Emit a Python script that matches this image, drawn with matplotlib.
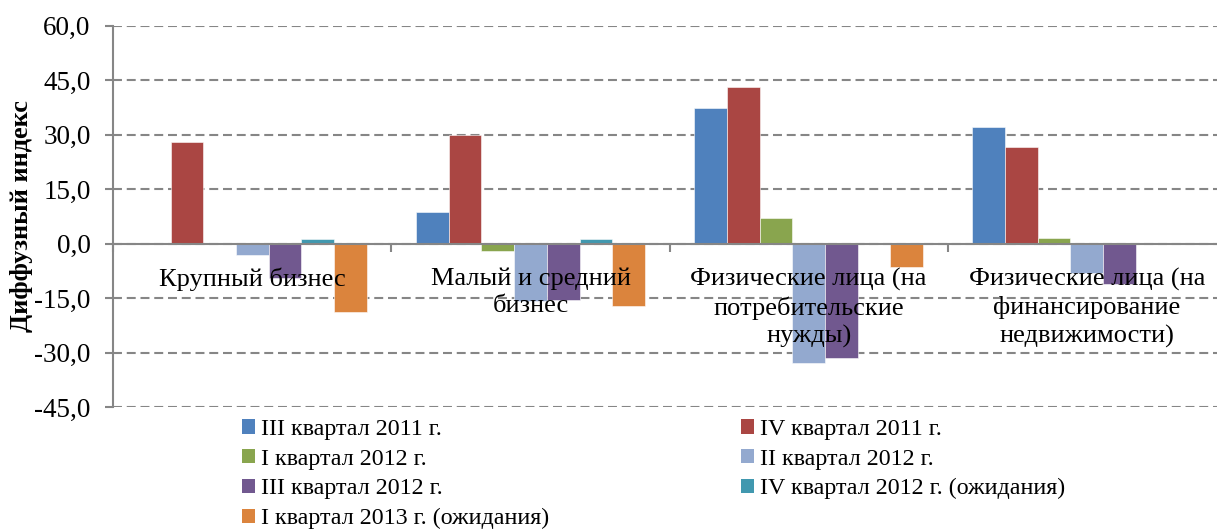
import numpy as np
import matplotlib
matplotlib.use("Agg")
import matplotlib.pyplot as plt
from matplotlib.patches import Patch

# ---- data ----
categories = [
    "Крупный бизнес",
    "Малый и средний\nбизнес",
    "Физические лица (на\nпотребительские\nнужды)",
    "Физические лица (на\nфинансирование\nнедвижимости)",
]
series_names = [
    "III квартал 2011 г.",
    "IV квартал 2011 г.",
    "I квартал 2012 г.",
    "II квартал 2012 г.",
    "III квартал 2012 г.",
    "IV квартал 2012 г. (ожидания)",
    "I квартал 2013 г. (ожидания)",
]
q3_2011 = [None, 8.7, 37.3, 32.0]
q4_2011 = [28.1, 30.0, 43.2, 26.6]
q1_2012 = [None, -1.9, 7.2, 1.7]
q2_2012 = [-3.2, -15.7, -32.8, -8.0]
q3_2012 = [-9.5, -15.6, -31.4, -11.1]
q4_2012_exp = [1.3, 1.3, None, None]
q1_2013_exp = [-18.9, -17.2, -6.3, None]

y_ticks = [-45, -30, -15, 0, 15, 30, 45, 60]
y_tick_labels = ["-45,0", "-30,0", "-15,0", "0,0", "15,0", "30,0", "45,0", "60,0"]
y_label = "Диффузный индекс"

colors = ["#4F81BD", "#AA4643", "#89A54E", "#93A9CF", "#71588F", "#4198AF", "#DB843D"]

series = [q3_2011, q4_2011, q1_2012, q2_2012, q3_2012, q4_2012_exp, q1_2013_exp]

plt.rcParams["font.family"] = ["Liberation Serif", "DejaVu Serif"]

W, H = 1217, 531
fig = plt.figure(figsize=(W / 100, H / 100), dpi=100)

left_px, right_px, top_px, bottom_px = 113.3, 1225.9, 25.7, 407.2
ax = fig.add_axes([left_px / W, 1 - bottom_px / H,
                   (right_px - left_px) / W, (bottom_px - top_px) / H])

grey = "#868686"
n = len(series)
bw = 1 / 8.5
x = np.arange(len(categories))
handles = []
for i, (vals, name, c) in enumerate(zip(series, series_names, colors)):
    v = np.array([np.nan if a is None else a for a in vals], dtype=float)
    ax.bar(x + (i - (n - 1) / 2) * bw, v, width=bw, color=c,
           edgecolor=(1, 1, 1, 0.55), linewidth=0.7, zorder=2, label=name)
    handles.append(Patch(facecolor=c, edgecolor="none", label=name))

ax.set_xlim(-0.5, 3.5)
ax.set_ylim(-45, 60)

# y axis
ax.set_yticks(y_ticks)
ax.set_yticklabels(y_tick_labels)
ax.tick_params(axis="y", direction="out", length=5.8, width=1.5, color=grey,
               pad=10.5, labelsize=19.5)
ax.yaxis.grid(True, color=grey, linewidth=1.5, linestyle=(0, (4.3, 2.3)))
ax.set_axisbelow(True)

# spines
for s in ["top", "right"]:
    ax.spines[s].set_visible(False)
ax.spines["left"].set_color(grey)
ax.spines["left"].set_linewidth(1.5)
ax.spines["bottom"].set_position(("data", 0))
ax.spines["bottom"].set_color(grey)
ax.spines["bottom"].set_linewidth(1.5)
ax.spines["bottom"].set_zorder(3)

# x axis: boundary ticks only
ax.set_xticks(np.arange(-0.5, 3.6, 1.0))
ax.set_xticklabels([])
ax.tick_params(axis="x", direction="out", length=5.8, width=1.5, color=grey)

# category labels (drawn over bars)
for xi, cat in zip(x, categories):
    ax.text(xi, -6.6, cat, ha="center", va="top", fontsize=19,
            linespacing=1.3, zorder=5, multialignment="center")

# y label
fig.text(22 / W, 1 - 216 / H, y_label, rotation=90, ha="center", va="center",
         fontsize=19, fontweight="bold")

# legend: two columns, row-wise order
fs = 17.3
fpx = fs * 100 / 72
common = dict(frameon=False, fontsize=fs, borderpad=0, borderaxespad=0,
              handlelength=12.7 / fpx, handleheight=12.7 / fpx,
              handletextpad=6 / fpx, labelspacing=0.36, loc="upper left")
leg1 = fig.legend(handles=[handles[i] for i in (0, 2, 4, 6)],
                  bbox_to_anchor=(242 / W, 1 - 419 / H), **common)
leg2 = fig.legend(handles=[handles[i] for i in (1, 3, 5)],
                  bbox_to_anchor=(741 / W, 1 - 419 / H), **common)

fig.savefig("out.png", dpi=100)
